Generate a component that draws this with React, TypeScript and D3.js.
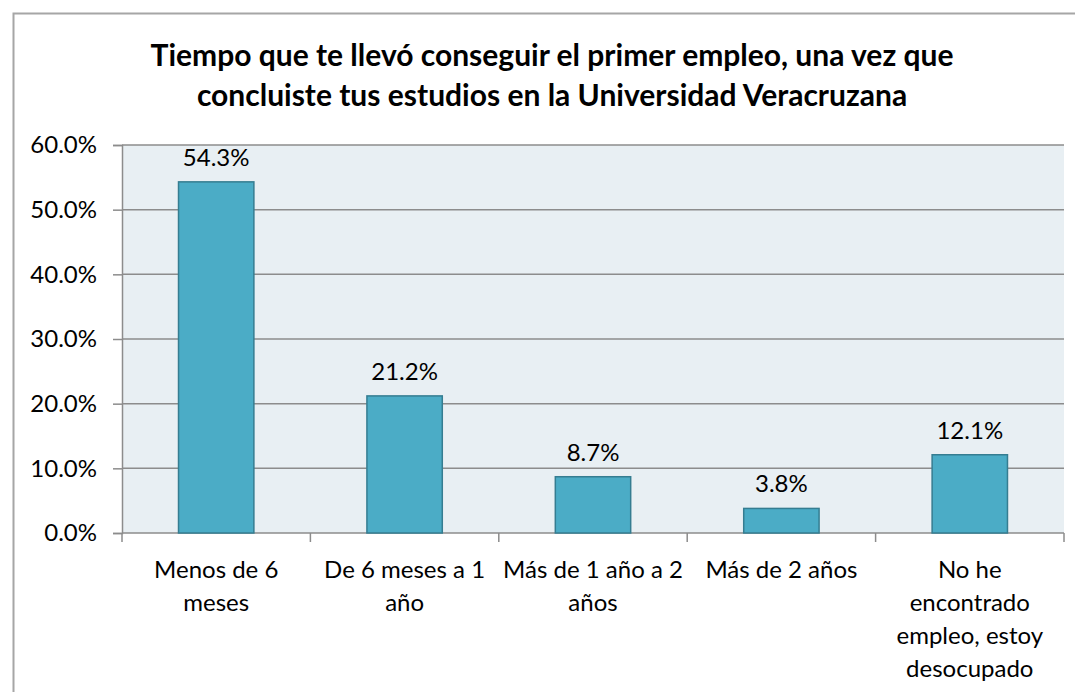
import * as React from 'react';
import * as d3 from 'd3';

const categories = [
  ['Menos de 6', 'meses'],
  ['De 6 meses a 1', 'año'],
  ['Más de 1 año a 2', 'años'],
  ['Más de 2 años'],
  ['No he', 'encontrado', 'empleo, estoy', 'desocupado'],
];
const values = [54.3, 21.2, 8.7, 3.8, 12.1];
const yTicks = [0, 10, 20, 30, 40, 50, 60];
const titleLines = [
  'Tiempo que te llevó conseguir el primer empleo, una vez que',
  'concluiste tus estudios en la Universidad Veracruzana',
];

const W = 1075, H = 692;
const FONT = 'Lato, "Open Sans", sans-serif';

export default function App() {
  const ref = React.useRef<SVGSVGElement>(null);

  React.useEffect(() => {
    const svg = d3.select(ref.current);
    svg.selectAll('*').remove();

    var margin = {top: 145, left: 122, right: 11, bottom: 159};
    var width = W - margin.left - margin.right,
      height = H - margin.top - margin.bottom;

    // outer frame (cut off at right and bottom like the screenshot)
    svg.append('path')
      .attr('d', `M13.5,${H} L13.5,13.5 L${W},13.5`)
      .attr('fill', 'none')
      .attr('stroke', '#a6a6a6')
      .attr('stroke-width', 2);

    // title
    svg.append('g').selectAll('text')
      .data(titleLines)
      .enter()
      .append('text')
      .attr('x', 552)
      .attr('y', (d, i) => 66 + i * 40)
      .attr('text-anchor', 'middle')
      .style('font-family', FONT)
      .style('font-weight', 'bold')
      .style('font-size', '30px')
      .text(d => d);

    const g = svg.append('g')
      .attr('transform', `translate(${margin.left},${margin.top})`);

    const idx = categories.map((c, i) => String(i));
    const x = d3.scaleBand().domain(idx).range([0, width]).paddingInner(0).paddingOuter(0);
    const y = d3.scaleLinear().domain([0, 60]).range([height, 0]);

    g.append('rect')
      .attr('width', width)
      .attr('height', height)
      .attr('fill', '#e8eff3');

    // gridlines
    g.selectAll('.grid')
      .data(yTicks.filter(t => t > 0))
      .enter()
      .append('line')
      .attr('x1', 0).attr('x2', width)
      .attr('y1', d => y(d)).attr('y2', d => y(d))
      .attr('stroke', '#8c8c8c')
      .attr('stroke-width', 1.5);

    // y axis
    const yAxis = g.append('g')
      .call(d3.axisLeft(y).tickValues(yTicks).tickSize(9).tickPadding(16)
        .tickFormat(d => (d as number).toFixed(1) + '%'));
    yAxis.select('.domain').attr('stroke', '#8c8c8c').attr('stroke-width', 1.5);
    yAxis.selectAll('.tick line').attr('stroke', '#8c8c8c').attr('stroke-width', 1.5);
    yAxis.selectAll('.tick text')
      .style('font-family', FONT)
      .style('font-size', '24px')
      .attr('fill', '#000');

    // x axis
    const xAxisG = g.append('g').attr('transform', `translate(0,${height})`);
    xAxisG.append('line')
      .attr('x1', 0).attr('x2', width)
      .attr('stroke', '#8c8c8c').attr('stroke-width', 1.5);
    const bounds = idx.map(i => x(i) as number).concat([width]);
    xAxisG.selectAll('.xt')
      .data(bounds)
      .enter()
      .append('line')
      .attr('x1', d => d).attr('x2', d => d)
      .attr('y1', 0).attr('y2', 9)
      .attr('stroke', '#8c8c8c').attr('stroke-width', 1.5);

    const labels = xAxisG.selectAll('.xl')
      .data(categories)
      .enter()
      .append('text')
      .attr('text-anchor', 'middle')
      .style('font-family', FONT)
      .style('font-size', '24px')
      .attr('fill', '#000');
    labels.each(function(lines, i) {
      const t = d3.select(this);
      lines.forEach((ln, j) => {
        t.append('tspan')
          .attr('x', (x(String(i)) as number) + x.bandwidth() / 2)
          .attr('y', 45 + j * 33)
          .text(ln);
      });
    });

    // bars
    const bw = x.bandwidth() * 0.4;
    g.selectAll('.bar')
      .data(values)
      .enter()
      .append('rect')
      .attr('x', (d, i) => (x(String(i)) as number) + (x.bandwidth() - bw) / 2)
      .attr('y', d => y(d))
      .attr('width', bw)
      .attr('height', d => height - y(d))
      .attr('fill', '#4bacc6')
      .attr('stroke', '#357d91')
      .attr('stroke-width', 1.5);

    // data labels
    g.selectAll('.dl')
      .data(values)
      .enter()
      .append('text')
      .attr('x', (d, i) => (x(String(i)) as number) + x.bandwidth() / 2)
      .attr('y', d => y(d) - 16)
      .attr('text-anchor', 'middle')
      .style('font-family', FONT)
      .style('font-size', '24px')
      .text(d => d.toFixed(1) + '%');
  }, []);

  return (
    <div>
      <svg ref={ref} width={W} height={H}
        style={{position: 'absolute', left: 0, top: 0, background: '#fff'}} />
    </div>
  );
}
